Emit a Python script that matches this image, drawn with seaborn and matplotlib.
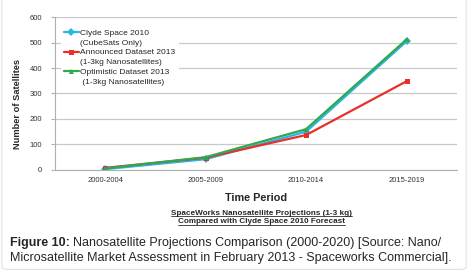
import matplotlib
matplotlib.use("Agg")
import matplotlib.pyplot as plt
import seaborn as sns
import pandas as pd
from matplotlib.lines import Line2D
from matplotlib.patches import FancyBboxPatch

periods = ["2000-2004", "2005-2009", "2010-2014", "2015-2019"]
clyde = [3, 42, 150, 505]
announced = [8, 48, 137, 348]
optimistic = [6, 50, 160, 512]
series_names = ["Clyde Space 2010", "Announced Dataset 2013", "Optimistic Dataset 2013"]
series_notes = ["(CubeSats Only)", "(1-3kg Nanosatellites)", " (1-3kg Nanosatellites)"]

df = pd.DataFrame({
    "Period": periods * 3,
    "Satellites": clyde + announced + optimistic,
    "Series": [series_names[0]] * 4 + [series_names[1]] * 4 + [series_names[2]] * 4,
})

sns.set_style("white")
plt.rcParams['font.family'] = ['Liberation Sans', 'DejaVu Sans']

fig = plt.figure(figsize=(4.69, 2.71), dpi=100)
ax = fig.add_axes([0.117, 0.373, 0.857, 0.564])

colors = ["#2db4e6", "#e8302a", "#2fa84f"]
sns.lineplot(data=df, x="Period", y="Satellites", hue="Series", style="Series",
             palette=colors, markers=["D", "s", "^"], dashes=False, markersize=3.6,
             markeredgewidth=0, linewidth=1.6, ax=ax)

ax.set_xlim(-0.5, 3.5)
ax.set_ylim(0, 600)
ax.set_yticks(range(0, 601, 100))
ax.yaxis.grid(True, color="#c8c8c8", linewidth=0.9)
ax.set_axisbelow(True)
for s in ["top", "right"]:
    ax.spines[s].set_visible(False)
ax.spines["left"].set_color("#b0b0b0")
ax.spines["bottom"].set_color("#b0b0b0")
ax.spines["left"].set_linewidth(0.8)
ax.spines["bottom"].set_linewidth(0.8)

ax.set_xticks(range(4))
ax.set_xticklabels(periods)
ax.set_xticks([0.5, 1.5, 2.5, 3.5], minor=True)
ax.tick_params(axis="x", which="major", length=0, labelsize=5.5, pad=5)
ax.tick_params(axis="x", which="minor", length=3, color="#b0b0b0", width=0.8, direction="out")
ax.tick_params(axis="y", length=3, color="#b0b0b0", width=0.8, labelsize=5.5,
               pad=6, left=True)
for lab in ax.get_xticklabels() + ax.get_yticklabels():
    lab.set_color("#333333")

ax.set_xlabel("")
ax.set_ylabel("Number of Satellites", fontsize=6.7, fontweight="bold")
ax.yaxis.set_label_coords(-0.082, 0.43)

# legend: handle next to first line of each label, note on its own row
handles, labels = ax.get_legend_handles_labels()
blank = Line2D([], [], linestyle="none", marker="none")
leg_h, leg_l = [], []
for name, note in zip(series_names, series_notes):
    leg_h += [handles[labels.index(name)], blank]
    leg_l += [name, note]
leg = ax.legend(leg_h, leg_l, loc="upper left", bbox_to_anchor=(0.014, 0.945), fontsize=6,
                frameon=True, framealpha=1, edgecolor="white", facecolor="white",
                handlelength=1.8, handletextpad=0.15, labelspacing=0.25,
                borderpad=0.4, borderaxespad=0)
leg.get_frame().set_linewidth(0)

fig.text(0.545, 0.269, "Time Period", fontsize=7.8, fontweight="bold",
         ha="center", va="center")

sub1 = fig.text(0.558, 0.214, "SpaceWorks Nanosatellite Projections (1-3 kg)",
                fontsize=5.9, fontweight="bold", ha="center", va="center")
sub2 = fig.text(0.558, 0.181, "Compared with Clyde Space 2010 Forecast",
                fontsize=5.9, fontweight="bold", ha="center", va="center")

cap1 = fig.text(0.021, 0.103, "Figure 10:", fontsize=9, fontweight="bold",
                ha="left", va="center")
fig.text(0.021, 0.048,
         "Microsatellite Market Assessment in February 2013 - Spaceworks Commercial].",
         fontsize=9, ha="left", va="center")

fig.canvas.draw()
r = fig.canvas.get_renderer()
inv = fig.transFigure.inverted()
bb = cap1.get_window_extent(r).transformed(inv)
fig.text(bb.x1 + 0.008, 0.103,
         "Nanosatellite Projections Comparison (2000-2020) [Source: Nano/",
         fontsize=9, ha="left", va="center")

for t in (sub1, sub2):
    b = t.get_window_extent(r).transformed(inv)
    fig.add_artist(Line2D([b.x0, b.x1], [b.y0 + 0.003, b.y0 + 0.003],
                          color="black", linewidth=0.5, transform=fig.transFigure))

frame = FancyBboxPatch((0.004, 0.006), 0.99, 1.2, boxstyle="round,pad=0,rounding_size=0.01",
                       transform=fig.transFigure, facecolor="none",
                       edgecolor="#e2e2e2", linewidth=0.8)
fig.add_artist(frame)

fig.savefig("out.png", dpi=100)
